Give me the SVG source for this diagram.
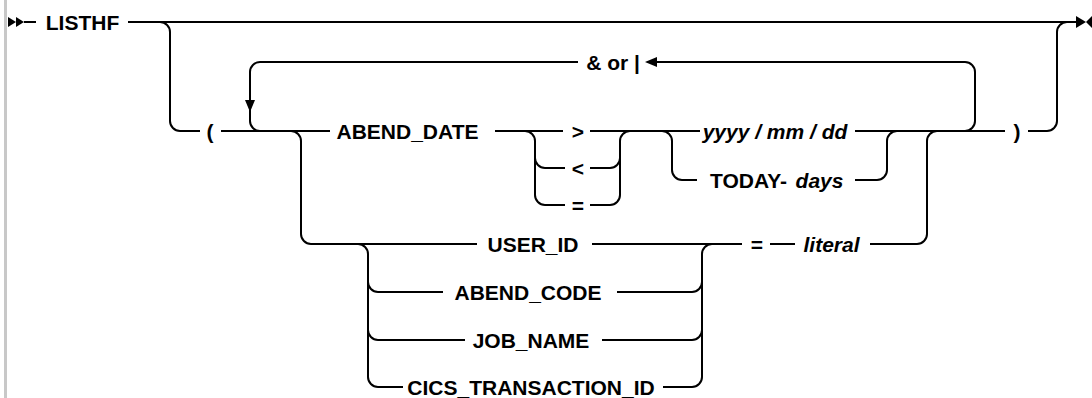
<svg xmlns="http://www.w3.org/2000/svg" width="1092" height="398" viewBox="0 0 1092 398">
<style>
.c{fill:none;stroke:#000;stroke-width:2}
.t{font-family:"Liberation Sans",Arial,sans-serif;font-size:21px;font-weight:bold;fill:#000;text-anchor:middle}
.i{font-style:italic}
.a{fill:#000}
</style>
<rect x="0" y="0" width="1092" height="398" fill="#fff"/>
<rect x="4" y="0" width="3" height="398" fill="#c8c8c8"/>
<g id="connectors">
<path class="c" d="M24,22 H36"/>
<path class="c" d="M128,22 H1076"/>
<path class="c" d="M160,22 a10,10 0 0 1 10,10 V121 a10,10 0 0 0 10,10 H200"/>
<path class="c" d="M221,131 H330"/>
<path class="c" d="M965,131 a10,10 0 0 0 10,-10 V72 a10,10 0 0 0 -10,-10 H657"/>
<path class="c" d="M578,62 H260 a10,10 0 0 0 -10,10 V121 a10,10 0 0 0 10,10 H270"/>
<path class="c" d="M291,131 a10,10 0 0 1 10,10 V234 a10,10 0 0 0 10,10 H477"/>
<path class="c" d="M592,244 H742"/>
<path class="c" d="M770,244 H795"/>
<path class="c" d="M870,244 H917 a10,10 0 0 0 10,-10 V141 a10,10 0 0 1 10,-10"/>
<path class="c" d="M495,131 H563"/>
<path class="c" d="M590,131 H700"/>
<path class="c" d="M525,131 a10,10 0 0 1 10,10 V195 a10,10 0 0 0 10,10 H565"/>
<path class="c" d="M535,158 a10,10 0 0 0 10,10 H565"/>
<path class="c" d="M590,168 H610 a10,10 0 0 0 10,-10"/>
<path class="c" d="M590,205 H610 a10,10 0 0 0 10,-10 V141 a10,10 0 0 1 10,-10"/>
<path class="c" d="M662,131 a10,10 0 0 1 10,10 V170 a10,10 0 0 0 10,10 H697"/>
<path class="c" d="M855,131 H1005"/>
<path class="c" d="M855,180 H877 a10,10 0 0 0 10,-10 V141 a10,10 0 0 1 10,-10"/>
<path class="c" d="M1028,131 H1047 a10,10 0 0 0 10,-10 V32 a10,10 0 0 1 10,-10"/>
<path class="c" d="M358,244 a10,10 0 0 1 10,10 V377 a10,10 0 0 0 10,10 H403"/>
<path class="c" d="M368,282 a10,10 0 0 0 10,10 H443"/>
<path class="c" d="M368,330 a10,10 0 0 0 10,10 H465"/>
<path class="c" d="M617,292 H692 a10,10 0 0 0 10,-10"/>
<path class="c" d="M602,340 H692 a10,10 0 0 0 10,-10"/>
<path class="c" d="M663,387 H692 a10,10 0 0 0 10,-10 V254 a10,10 0 0 1 10,-10"/>
<polygon class="a" points="8,17 16,22 8,27"/>
<polygon class="a" points="16,17 24,22 16,27"/>
<polygon class="a" points="1076,16 1086,22 1076,28"/>
<polygon class="a" points="1092,16 1086,22 1092,28"/>
<polygon class="a" points="657,57 645,62 657,67"/>
<polygon class="a" points="245,100 250,112 255,100"/>
</g>
<g id="n-listhf"><text class="t" x="82.5" y="29.5">LISTHF</text></g>
<g id="n-lparen"><text class="t" x="210" y="138.5">(</text></g>
<g id="n-rparen"><text class="t" x="1017" y="138.5">)</text></g>
<g id="n-andor"><text class="t" x="613" y="69.5">&amp; or |</text></g>
<g id="n-abend-date"><text class="t" x="407.5" y="138.5">ABEND_DATE</text></g>
<g id="n-gt"><text class="t" x="578" y="138.5">&gt;</text></g>
<g id="n-lt"><text class="t" x="578" y="175.5">&lt;</text></g>
<g id="n-eq"><text class="t" x="578" y="212.5">=</text></g>
<g id="n-date"><text class="t i" x="775" y="138.5">yyyy / mm / dd</text></g>
<g id="n-today"><text class="t" x="748.5" y="187.5">TODAY-</text><text class="t i" x="819.5" y="187.5">days</text></g>
<g id="n-user-id"><text class="t" x="533" y="251.5">USER_ID</text></g>
<g id="n-abend-code"><text class="t" x="528" y="299.5">ABEND_CODE</text></g>
<g id="n-job-name"><text class="t" x="531" y="347.5">JOB_NAME</text></g>
<g id="n-cics"><text class="t" x="531" y="394.5">CICS_TRANSACTION_ID</text></g>
<g id="n-eq2"><text class="t" x="757" y="251.5">=</text></g>
<g id="n-literal"><text class="t i" x="831.5" y="251.5">literal</text></g>
</svg>
